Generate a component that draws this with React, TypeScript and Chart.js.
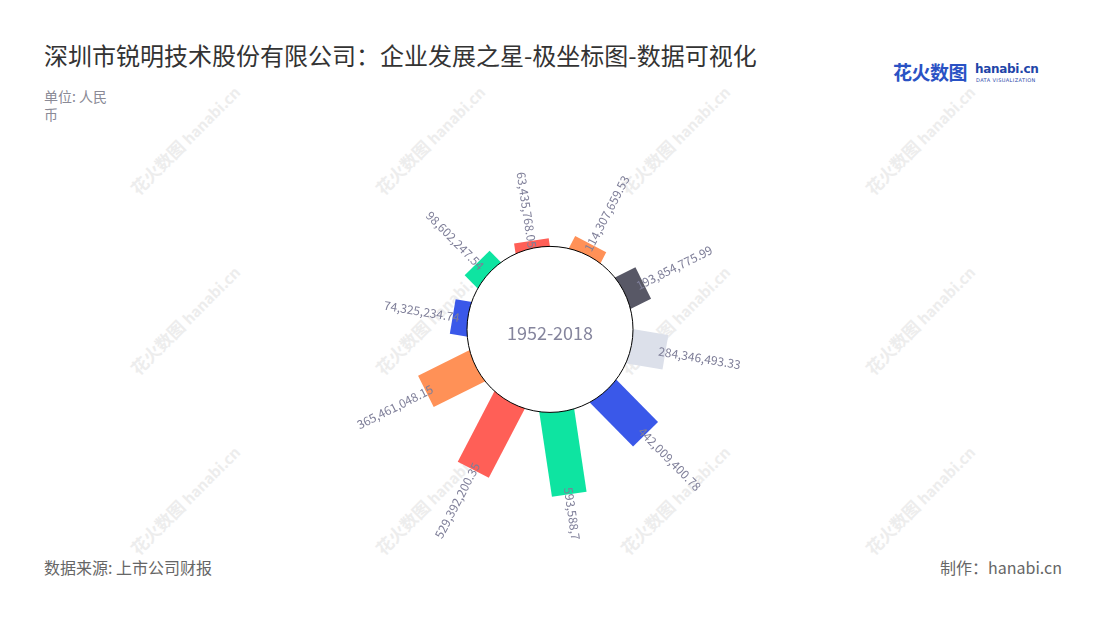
import React, { useEffect, useRef } from 'react';
import { Chart, registerables } from 'chart.js';

Chart.register(...registerables);

// ---- data ----
const categories = ['2009', '2010', '2011', '2012', '2013', '2014', '2015', '2016', '2017', '2018'];
const values = [
  63435768.05, 114307659.53, 193854775.99, 284346493.33, 442009400.78,
  593588796.12, 529392200.35, 365461048.15, 74325234.74, 98602247.54,
];
const barColors = [
  '#FF5F57', '#FF9157', '#585866', '#DCE0EA', '#3A58E9',
  '#0EE4A1', '#FF5F57', '#FF9157', '#3A58E9', '#0EE4A1',
];
const centerLabel = '1952-2018';
const titleText = '深圳市锐明技术股份有限公司：企业发展之星-极坐标图-数据可视化';
const unitText = '单位: 人民币';
const sourceText = '数据来源: 上市公司财报';
const makerText = '制作：hanabi.cn';

// ---- scale / style ----
const RADIUS_MIN = -615000000;
const RADIUS_MAX = 910000000;
const START_ANGLE = -26.5;
const BAR_WIDTH = 35;
const BAR_INNER = 30;
const CIRCLE_DX = 5;
const CIRCLE_DY = -2.6;
const CIRCLE_R = 83;
const LABEL_COLOR = '#7e7e98';
const FONT = "'Noto Sans CJK SC', 'Noto Sans', sans-serif";

const fmt = new Intl.NumberFormat('en-US', { minimumFractionDigits: 2, maximumFractionDigits: 2 });

const radialBarPlugin = {
  id: 'radialBars',
  beforeDatasetDraw(chart: any, args: any) {
    const ctx = chart.ctx;
    args.meta.data.forEach((arc: any) => {
      const p = arc.getProps(['x', 'y', 'startAngle', 'endAngle', 'outerRadius'], true);
      const mid = (p.startAngle + p.endAngle) / 2;
      ctx.save();
      ctx.translate(p.x, p.y);
      ctx.rotate(mid);
      ctx.fillStyle = arc.options.backgroundColor;
      ctx.fillRect(BAR_INNER, -BAR_WIDTH / 2, p.outerRadius - BAR_INNER, BAR_WIDTH);
      ctx.restore();
    });
    return false;
  },
  afterDatasetsDraw(chart: any) {
    const scale = chart.scales.r;
    const ctx = chart.ctx;
    const cx = scale.xCenter + CIRCLE_DX;
    const cy = scale.yCenter + CIRCLE_DY;

    ctx.save();
    ctx.beginPath();
    ctx.arc(cx, cy, CIRCLE_R, 0, Math.PI * 2);
    ctx.fillStyle = '#ffffff';
    ctx.fill();
    ctx.lineWidth = 1;
    ctx.strokeStyle = '#000000';
    ctx.stroke();
    ctx.fillStyle = '#85859d';
    ctx.font = `18px ${FONT}`;
    ctx.textAlign = 'center';
    ctx.textBaseline = 'middle';
    ctx.fillText(centerLabel, cx, cy + 4);
    ctx.restore();

    const meta = chart.getDatasetMeta(0);
    const ds = chart.data.datasets[0];
    ctx.save();
    ctx.font = `12px ${FONT}`;
    ctx.fillStyle = LABEL_COLOR;
    ctx.textBaseline = 'middle';
    meta.data.forEach((arc: any, i: number) => {
      const p = arc.getProps(['x', 'y', 'startAngle', 'endAngle', 'outerRadius'], true);
      const mid = (p.startAngle + p.endAngle) / 2;
      const text = fmt.format(ds.data[i]);
      const start = p.outerRadius - 7;
      ctx.save();
      ctx.translate(p.x, p.y);
      if (Math.cos(mid) >= 0) {
        ctx.rotate(mid);
        ctx.textAlign = 'left';
        ctx.fillText(text, start, 0);
      } else {
        ctx.rotate(mid + Math.PI);
        ctx.textAlign = 'right';
        ctx.fillText(text, -start, 0);
      }
      ctx.restore();
    });
    ctx.restore();
  },
};

const wmCols = [185, 430, 675, 920];
const wmRows = [140, 320, 500];

function Watermarks() {
  const items: any[] = [];
  wmRows.forEach((y, ri) =>
    wmCols.forEach((x, ci) => {
      items.push(
        <div
          key={`${ri}-${ci}`}
          style={{
            position: 'absolute',
            left: x - 80,
            top: y - 12,
            width: 160,
            height: 24,
            transform: 'rotate(-45deg)',
            color: '#ededed',
            fontWeight: 700,
            whiteSpace: 'nowrap',
            textAlign: 'center',
            lineHeight: '24px',
          }}
        >
          <span style={{ fontSize: 17 }}>花火数图</span>
          <span style={{ fontSize: 15, marginLeft: 4 }}>hanabi.cn</span>
        </div>
      );
    })
  );
  return <>{items}</>;
}

export default function App() {
  const canvasRef = useRef<HTMLCanvasElement>(null);

  useEffect(() => {
    const chart = new Chart(canvasRef.current as HTMLCanvasElement, {
      type: 'polarArea',
      data: {
        labels: categories,
        datasets: [{ data: values, backgroundColor: barColors, borderWidth: 0 }],
      },
      options: {
        animation: false,
        responsive: true,
        maintainAspectRatio: false,
        layout: { padding: { left: 0, right: 10, top: 0, bottom: 0 } },
        plugins: { legend: { display: false }, tooltip: { enabled: false } },
        scales: {
          r: {
            display: false,
            min: RADIUS_MIN,
            max: RADIUS_MAX,
            startAngle: START_ANGLE,
            ticks: { display: false },
          },
        },
      } as any,
      plugins: [radialBarPlugin as any],
    });
    return () => chart.destroy();
  }, []);

  return (
    <div
      style={{
        position: 'absolute',
        left: 0,
        top: 0,
        width: 1100,
        height: 620,
        background: '#ffffff',
        fontFamily: FONT,
        overflow: 'hidden',
      }}
    >
      <Watermarks />
      <div
        style={{
          position: 'absolute',
          left: 44,
          top: 42,
          fontSize: 24,
          lineHeight: '26px',
          color: '#333333',
          whiteSpace: 'nowrap',
        }}
      >
        {titleText}
      </div>
      <div
        style={{
          position: 'absolute',
          left: 44,
          top: 87,
          width: 68,
          fontSize: 14,
          lineHeight: '18px',
          color: '#8a8a96',
        }}
      >
        {unitText}
      </div>
      <div style={{ position: 'absolute', left: 893, top: 58, whiteSpace: 'nowrap' }}>
        <span style={{ fontSize: 19, fontWeight: 700, color: '#2a52c4', letterSpacing: -0.5 }}>花火数图</span>
        <span
          style={{
            position: 'absolute',
            left: 82,
            top: 4,
            fontSize: 12,
            fontWeight: 700,
            color: '#1f46a8',
            fontFamily: "'DejaVu Sans', sans-serif",
            letterSpacing: -0.3,
          }}
        >
          hanabi.cn
        </span>
        <span
          style={{
            position: 'absolute',
            left: 83,
            top: 19,
            fontSize: 5,
            color: '#1f46a8',
            letterSpacing: 0.4,
            fontFamily: "'DejaVu Sans', sans-serif",
          }}
        >
          DATA VISUALIZATION
        </span>
      </div>
      <div style={{ position: 'absolute', left: 0, top: 125, width: 1100, height: 415 }}>
        <canvas ref={canvasRef} />
      </div>
      <div
        style={{
          position: 'absolute',
          left: 44,
          top: 557,
          fontSize: 16,
          lineHeight: '20px',
          color: '#666666',
          whiteSpace: 'nowrap',
        }}
      >
        {sourceText}
      </div>
      <div
        style={{
          position: 'absolute',
          right: 38,
          top: 557,
          fontSize: 16,
          lineHeight: '20px',
          color: '#666666',
          whiteSpace: 'nowrap',
        }}
      >
        {makerText}
      </div>
    </div>
  );
}
